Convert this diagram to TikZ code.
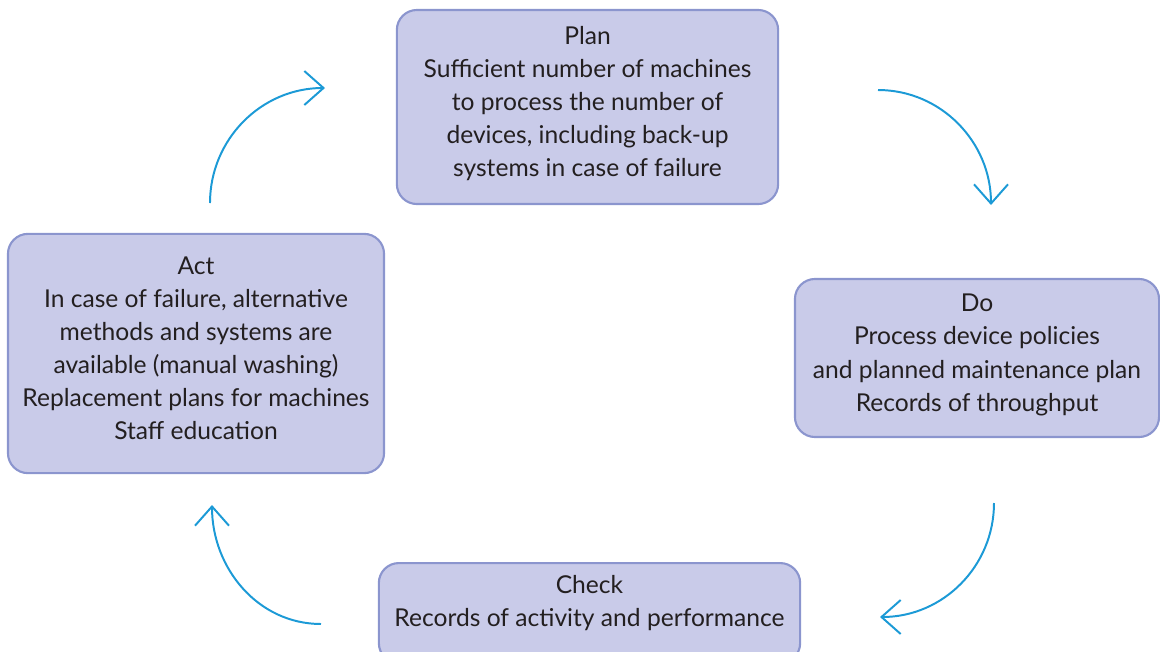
\documentclass[tikz,border=0pt]{standalone}
\usepackage{fontspec}
\setmainfont{Lato}
\usetikzlibrary{arrows.meta}

\definecolor{boxfill}{HTML}{C9CBE9}
\definecolor{boxline}{HTML}{8B95CE}
\definecolor{arrowblue}{HTML}{1C9AD6}
\definecolor{textgrey}{HTML}{231F20}

\tikzset{
    stage/.style={rectangle, rounded corners=0.5cm, draw=boxline, fill=boxfill, line width=1.5pt, align=center, text=textgrey, font=\fontsize{17.5}{23.5}\selectfont, inner sep=0pt},
    cycle arrow/.style={draw=arrowblue, line width=1.4pt, -{Straight Barb[length=0.48cm, width=0.85cm, line width=1.4pt]}}
}

\begin{document}
\begin{tikzpicture}[x=0.025cm, y=-0.025cm]
    \useasboundingbox (0,0) rectangle (1160,652);
    \clip (0,0) rectangle (1160,652);

    \node [stage, minimum width=9.53cm, minimum height=4.85cm, text depth=7.6pt] (plan) at (587.5,107) {Plan\\Sufficient number of machines\\to process the number of\\devices, including back-up\\systems in case of failure};
    \node [stage, minimum width=9.1cm, minimum height=3.95cm, text depth=7.6pt] (do) at (977,358) {Do\\Process device policies\\and planned maintenance plan\\Records of throughput};
    \node [stage, minimum width=10.53cm, minimum height=2.5cm, anchor=north, text depth=0.6cm] (check) at (589.5,562) {Check\\Records of activity and performance};
    \node [stage, minimum width=9.4cm, minimum height=5.98cm, text depth=7.8pt] (act) at (196,353.5) {Act\\In case of failure, alternative\\methods and systems are\\available (manual washing)\\Replacement plans for machines\\Staff education};

    % free arcs between the stages
    \coordinate (actout) at (210,203);
    \coordinate (planin) at (325,88);
    \coordinate (planout) at (878,90);
    \coordinate (doin) at (991,205);
    \coordinate (doout) at (994,503);
    \coordinate (checkin) at (880,617);
    \coordinate (checkout) at (321,624);
    \coordinate (actin) at (212,505);

    \draw [cycle arrow] (actout) to[out=90, in=180] (planin);
    \draw [cycle arrow] (planout) to[out=0, in=90] (doin);
    \draw [cycle arrow] (doout) to[out=-90, in=0] (checkin);
    \draw [cycle arrow] (checkout) to[out=180, in=-90] (actin);
\end{tikzpicture}
\end{document}
